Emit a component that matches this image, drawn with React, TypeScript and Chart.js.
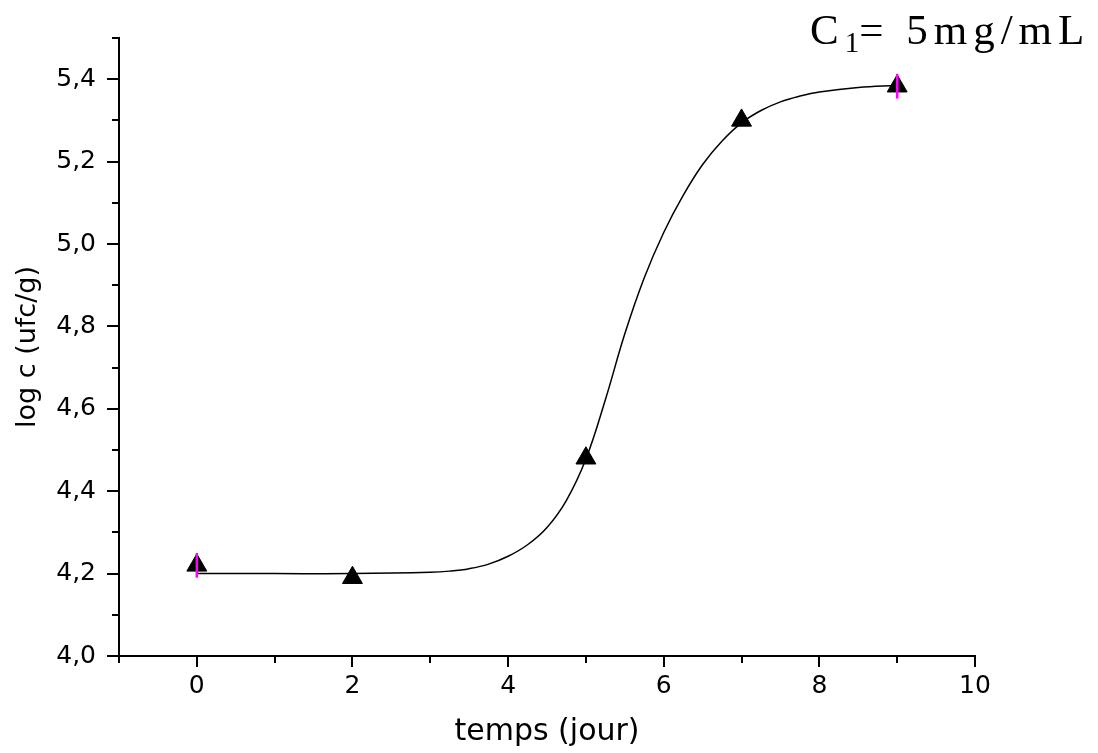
import React, { useEffect, useRef } from 'react';
import { Chart, registerables } from 'chart.js';

Chart.register(...registerables);

// Measured points (triangles)
const timeDays = [0, 2, 5, 7, 9];
const logCount = [4.22, 4.19, 4.48, 5.3, 5.383];
const errorBars = [0.03, 0, 0, 0, 0.03];

// Fitted curve
const fitX = [0, 1, 2, 3, 3.25, 3.5, 3.75, 4.0, 4.25, 4.5, 4.75, 5.0, 5.25, 5.5, 5.75, 6.0, 6.25, 6.5, 6.75, 7.0, 7.25, 7.5, 7.75, 8.0, 8.5, 9.0];
const fitY = [4.2, 4.2, 4.2, 4.203, 4.206, 4.212, 4.223, 4.242, 4.27, 4.312, 4.378, 4.478, 4.622, 4.782, 4.918, 5.028, 5.118, 5.193, 5.25, 5.294, 5.324, 5.345, 5.359, 5.369, 5.38, 5.385];

const xMin = -1;
const xMax = 10;
const yMin = 4.0;
const yMax = 5.5;

const xTitle = 'temps (jour)';
const yTitle = 'log c (ufc/g)';

const FONT = "'DejaVu Sans', 'Liberation Sans', Arial, sans-serif";

const axisDecor = {
  id: 'axisDecor',
  afterDatasetsDraw(chart: any) {
    const { ctx, scales } = chart;
    const x = scales.x;
    const y = scales.y;
    ctx.save();
    ctx.strokeStyle = '#ff00ff';
    ctx.lineWidth = 2.5;
    timeDays.forEach((t, i) => {
      const e = errorBars[i];
      if (!e) return;
      const px = x.getPixelForValue(t);
      ctx.beginPath();
      ctx.moveTo(px, y.getPixelForValue(logCount[i] - e));
      ctx.lineTo(px, y.getPixelForValue(logCount[i] + e));
      ctx.stroke();
    });
    ctx.restore();
  },
  afterDraw(chart: any) {
    const { ctx, chartArea, scales } = chart;
    const x = scales.x;
    const y = scales.y;
    ctx.save();
    ctx.strokeStyle = '#000';
    ctx.lineWidth = 2;
    y.ticks.forEach((t: any) => {
      const major = Math.round(t.value * 10) % 2 === 0;
      const len = major ? 12 : 7;
      const py = Math.round(y.getPixelForValue(t.value));
      ctx.beginPath();
      ctx.moveTo(chartArea.left - len, py);
      ctx.lineTo(chartArea.left, py);
      ctx.stroke();
    });
    x.ticks.forEach((t: any) => {
      const major = Math.round(t.value) % 2 === 0;
      const len = major ? 11 : 7;
      const px = Math.round(x.getPixelForValue(t.value));
      ctx.beginPath();
      ctx.moveTo(px, chartArea.bottom);
      ctx.lineTo(px, chartArea.bottom + len);
      ctx.stroke();
    });
    ctx.restore();
  },
};

export default function App() {
  const canvasRef = useRef<HTMLCanvasElement | null>(null);

  useEffect(() => {
    const canvas = canvasRef.current;
    if (!canvas) return;
    const chart = new Chart(canvas, {
      type: 'scatter',
      data: {
        datasets: [
          {
            label: 'mesures',
            data: timeDays.map((t, i) => ({ x: t, y: logCount[i] })),
            pointStyle: 'triangle',
            pointRadius: 11.5,
            pointHoverRadius: 11.5,
            backgroundColor: '#000',
            borderColor: '#000',
            borderWidth: 1,
            showLine: false,
          },
          {
            label: 'ajustement',
            data: fitX.map((t, i) => ({ x: t, y: fitY[i] })),
            showLine: true,
            borderColor: '#000',
            borderWidth: 1.5,
            pointRadius: 0,
            tension: 0.4,
            fill: false,
          },
        ],
      },
      options: {
        animation: false,
        responsive: false,
        maintainAspectRatio: false,
        layout: { padding: { left: 0, top: 36, right: 123, bottom: 0 } },
        plugins: {
          legend: { display: false },
          tooltip: { enabled: false },
        },
        scales: {
          x: {
            type: 'linear',
            min: xMin,
            max: xMax,
            afterFit: (s: any) => {
              s.height = 97;
            },
            grid: { display: false, drawTicks: false },
            border: { display: true, color: '#000', width: 2 },
            ticks: {
              stepSize: 1,
              padding: 15,
              color: '#000',
              font: { family: FONT, size: 25 },
              maxRotation: 0,
              autoSkip: false,
              callback: (v: any) => (Math.round(v) % 2 === 0 ? String(Math.round(v)) : ''),
            },
            title: {
              display: true,
              text: xTitle,
              color: '#000',
              font: { family: FONT, size: 30 },
              padding: { top: 0, bottom: 3 },
            },
          },
          y: {
            type: 'linear',
            min: yMin,
            max: yMax,
            afterFit: (s: any) => {
              s.width = 119;
            },
            grid: { display: false, drawTicks: false },
            border: { display: true, color: '#000', width: 2 },
            ticks: {
              stepSize: 0.1,
              padding: 23,
              color: '#000',
              font: { family: FONT, size: 25 },
              autoSkip: false,
              callback: (v: any) => {
                const n = Math.round(v * 10);
                return n % 2 === 0 ? (n / 10).toFixed(1).replace('.', ',') : '';
              },
            },
            title: {
              display: true,
              text: yTitle,
              color: '#000',
              font: { family: FONT, size: 27 },
              padding: { top: 12, bottom: 0 },
            },
          },
        },
      },
      plugins: [axisDecor],
    } as any);
    return () => chart.destroy();
  }, []);

  return (
    <div style={{ position: 'absolute', left: 0, top: 0, width: 1098, height: 753, background: '#fff' }}>
      <canvas ref={canvasRef} width={1098} height={753} style={{ width: 1098, height: 753, display: 'block' }} />
      <div
        style={{
          position: 'absolute',
          left: 810,
          top: 8,
          fontFamily: "'Liberation Serif', 'Times New Roman', serif",
          fontSize: 43,
          lineHeight: '43px',
          letterSpacing: 6,
          color: '#000',
          whiteSpace: 'nowrap',
        }}
      >
        C<sub style={{ fontSize: 29, verticalAlign: '-8px', lineHeight: 0, letterSpacing: 0 }}>1</sub>= 5mg/mL
      </div>
    </div>
  );
}
